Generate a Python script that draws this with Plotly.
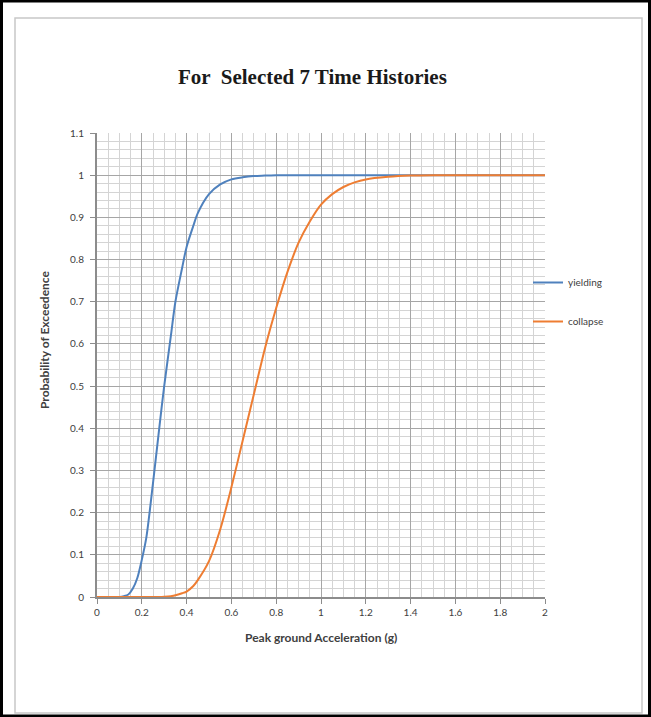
import plotly.graph_objects as go

# ---- data ----
pga = [0.0, 0.05, 0.10, 0.12, 0.14, 0.16, 0.18, 0.20, 0.22, 0.25, 0.28, 0.30, 0.33, 0.35,
       0.38, 0.40, 0.43, 0.45, 0.50, 0.55, 0.60, 0.65, 0.70, 0.75, 0.80, 0.85, 0.90,
       0.95, 1.00, 1.05, 1.10, 1.15, 1.20, 1.30, 1.40, 1.50, 1.60, 1.80, 2.00]
yielding = [0.0, 0.0, 0.0, 0.002, 0.006, 0.02, 0.045, 0.088, 0.14, 0.27, 0.41, 0.50, 0.62, 0.70,
            0.78, 0.83, 0.88, 0.91, 0.955, 0.978, 0.99, 0.995, 0.998, 0.999, 1.0, 1.0, 1.0,
            1.0, 1.0, 1.0, 1.0, 1.0, 1.0, 1.0, 1.0, 1.0, 1.0, 1.0, 1.0]
collapse = [0.0, 0.0, 0.0, 0.0, 0.0, 0.0, 0.0, 0.0, 0.0, 0.0, 0.0, 0.0005, 0.002, 0.004,
            0.009, 0.013, 0.026, 0.04, 0.085, 0.16, 0.26, 0.37, 0.48, 0.59, 0.685, 0.77, 0.84,
            0.89, 0.93, 0.955, 0.972, 0.983, 0.99, 0.996, 0.999, 1.0, 1.0, 1.0, 1.0]
x_ticks = [0, 0.2, 0.4, 0.6, 0.8, 1, 1.2, 1.4, 1.6, 1.8, 2]
x_tick_labels = ["0", "0.2", "0.4", "0.6", "0.8", "1", "1.2", "1.4", "1.6", "1.8", "2"]
y_ticks = [0, 0.1, 0.2, 0.3, 0.4, 0.5, 0.6, 0.7, 0.8, 0.9, 1.0, 1.1]
y_tick_labels = ["0", "0.1", "0.2", "0.3", "0.4", "0.5", "0.6", "0.7", "0.8", "0.9", "1", "1.1"]

W, H = 651, 717
ML, MR, MT, MB = 97, 106, 133, 120
PW, PH = W - ML - MR, H - MT - MB


def px(x):
    return (x - ML) / PW


def py(y):
    return (H - MB - y) / PH


FONT = "Lato, Open Sans, sans-serif"

fig = go.Figure()
fig.add_trace(go.Scatter(x=pga, y=yielding, mode="lines", name="yielding", legendgroup="y",
                         line=dict(color="#4f81bd", width=2, shape="spline", smoothing=0.8)))
fig.add_trace(go.Scatter(x=pga, y=collapse, mode="lines", name="collapse", legendgroup="c",
                         line=dict(color="#ee7d32", width=2, shape="spline", smoothing=0.8)))

fig.update_layout(
    width=W, height=H,
    margin=dict(l=ML, r=MR, t=MT, b=MB, pad=0),
    paper_bgcolor="white", plot_bgcolor="white",
    showlegend=True,
    legend=dict(x=px(528), y=py(302), xanchor="left", yanchor="middle",
                font=dict(family=FONT, size=10, color="#404040"),
                tracegroupgap=20, itemwidth=30, bgcolor="rgba(0,0,0,0)"),
    xaxis=dict(range=[0, 2], tickvals=x_ticks, ticktext=x_tick_labels,
               showgrid=True, gridcolor="#a6a6a6", gridwidth=1,
               minor=dict(dtick=0.05, showgrid=True, gridcolor="#d4d4d4", gridwidth=1),
               showline=True, linecolor="#8c8c8c", linewidth=2,
               ticks="outside", ticklen=5, tickcolor="#8c8c8c",
               tickfont=dict(family=FONT, size=10, color="#404040"),
               zeroline=False),
    yaxis=dict(range=[0, 1.1], tickvals=y_ticks, ticktext=y_tick_labels,
               showgrid=True, gridcolor="#a6a6a6", gridwidth=1,
               minor=dict(dtick=0.02, showgrid=True, gridcolor="#d4d4d4", gridwidth=1),
               showline=True, linecolor="#8c8c8c", linewidth=2,
               ticks="outside", ticklen=5, tickcolor="#8c8c8c",
               ticklabelstandoff=4,
               tickfont=dict(family=FONT, size=10, color="#404040"),
               zeroline=False),
    annotations=[
        dict(text="<b>For  Selected 7 Time Histories</b>", x=px(312), y=py(77),
             xref="paper", yref="paper", showarrow=False, xanchor="center", yanchor="middle",
             font=dict(family="Liberation Serif, serif", size=21, color="#1a1a1a")),
        dict(text="<b>Peak ground Acceleration (g)</b>", x=px(321), y=py(637),
             xref="paper", yref="paper", showarrow=False, xanchor="center", yanchor="middle",
             font=dict(family=FONT, size=12, color="#404040")),
        dict(text="<b>Probability of Exceedence</b>", x=px(44), y=py(340),
             xref="paper", yref="paper", showarrow=False, xanchor="center", yanchor="middle",
             textangle=-90, font=dict(family=FONT, size=12, color="#404040")),
    ],
    shapes=[
        dict(type="rect", xref="paper", yref="paper", x0=px(15), x1=px(642), y0=py(18), y1=py(713),
             line=dict(color="#c8c8c8", width=1.5), layer="below"),
        dict(type="rect", xref="paper", yref="paper", x0=px(1.5), x1=px(649.5), y0=py(1), y1=py(716),
             line=dict(color="#000000", width=3), layer="below"),
    ],
)

fig.write_html("out.html")
